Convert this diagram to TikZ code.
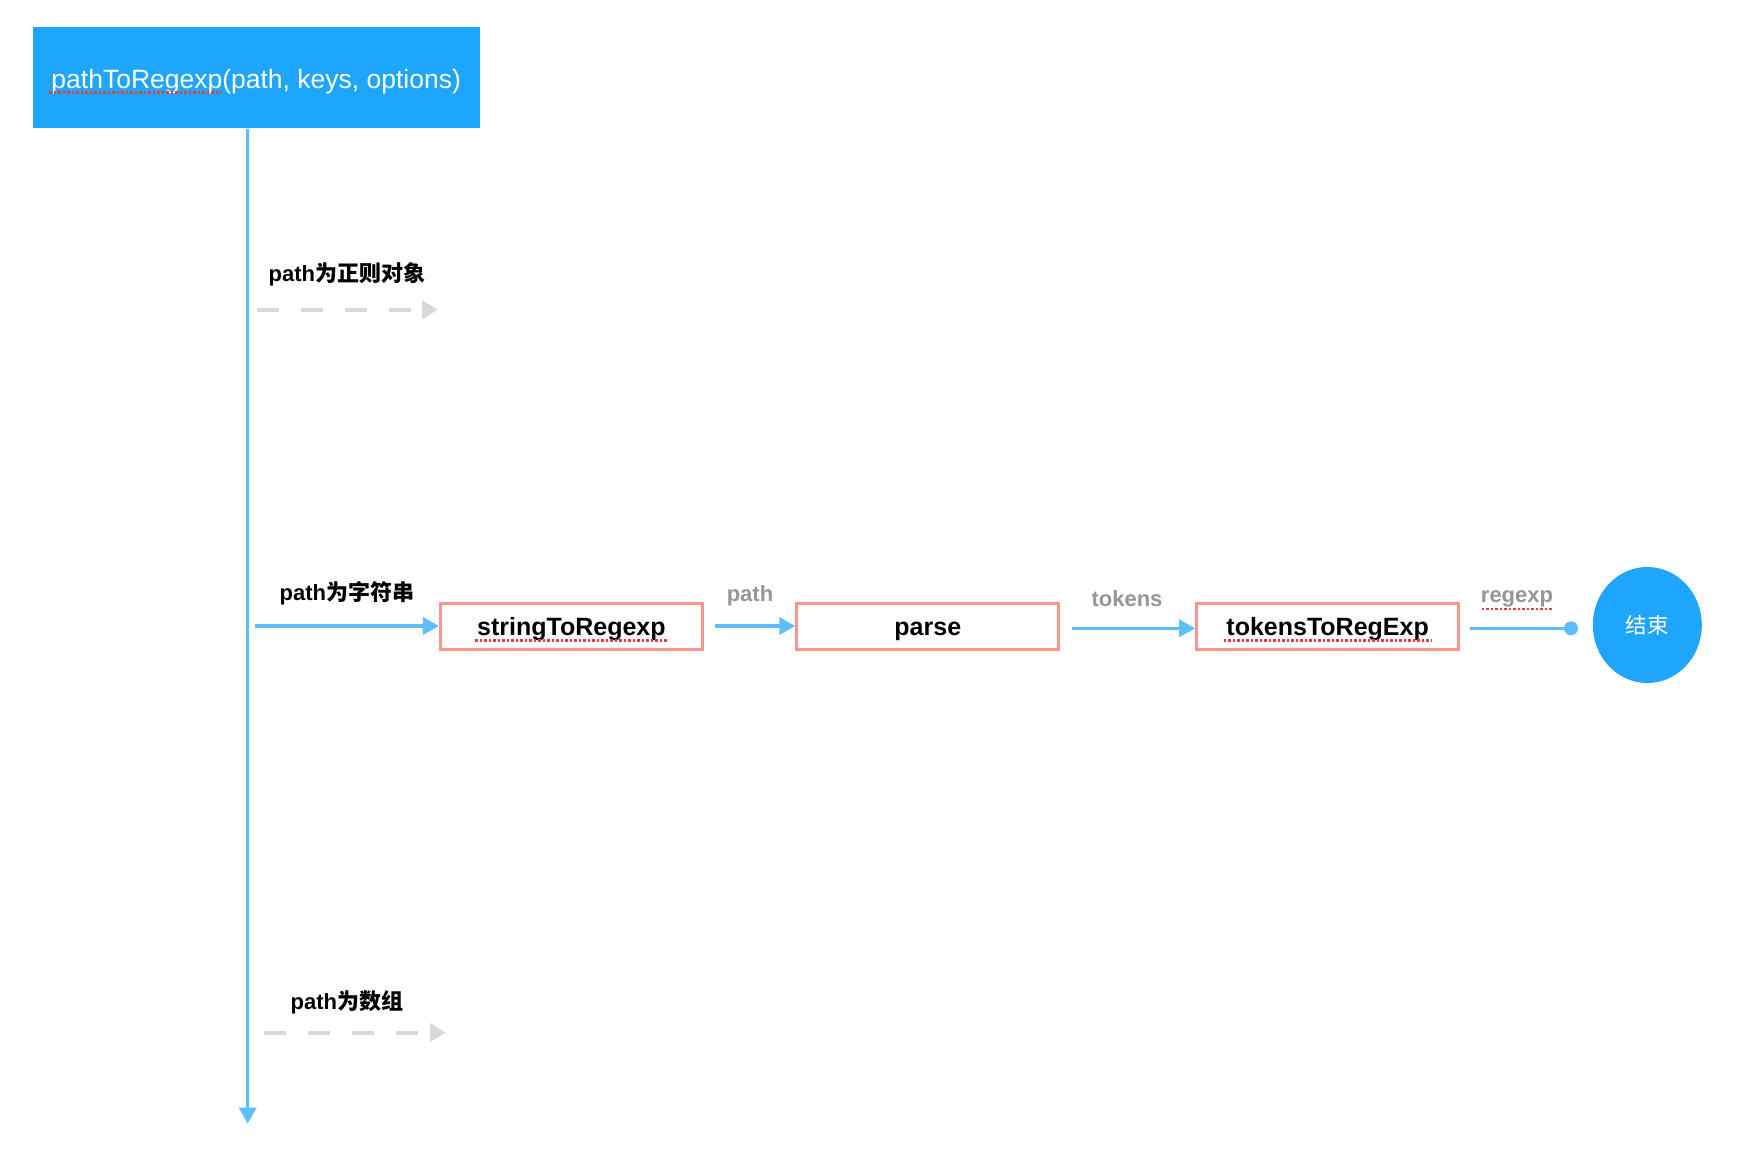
\documentclass[tikz,border=0pt]{standalone}
\usepackage{fontspec}
\setmainfont{Liberation Sans}
\newfontfamily\cjk{Noto Sans CJK SC}
\usetikzlibrary{arrows.meta,shapes.geometric}
\definecolor{topblue}{RGB}{30,165,252}
\definecolor{lineblue}{RGB}{94,190,250}
\definecolor{salmon}{RGB}{248,150,142}
\definecolor{dashgray}{RGB}{217,217,217}
\definecolor{labelgray}{RGB}{150,150,150}
\definecolor{spellred}{RGB}{235,60,60}
\tikzset{
  x=1pt, y=-1pt,
  funcbox/.style={draw=salmon, line width=3pt, minimum width=262pt, minimum height=45.5pt, inner sep=0pt, text height=21pt, text depth=3pt, font=\fontsize{25}{29}\selectfont\bfseries},
  flow/.style={draw=lineblue, line width=3.5pt, -{Triangle[length=16pt,width=17pt]}},
  dasharrow/.style={draw=dashgray, line width=4pt, dash pattern=on 22.5pt off 21.5pt, -{Triangle[length=16pt,width=18pt]}},
  branchlabel/.style={font=\fontsize{22}{26}\selectfont\bfseries, inner sep=0pt},
  edgelabel/.style={font=\fontsize{22}{26}\selectfont\bfseries, text=labelgray, inner sep=0pt},
  spell/.style={draw=spellred, line width=2.5pt, dash pattern=on 2.5pt off 2pt},
}
\begin{document}
\begin{tikzpicture}
\useasboundingbox (0,0) rectangle (1762,1150);
% top box
\node[fill=topblue, minimum width=447pt, minimum height=101.4pt, inner sep=0pt, text height=25pt, text depth=3.6pt, text=white, font=\fontsize{26.5}{30}\selectfont] (top) at (256.2,77.7) {pathToRegexp(path, keys, options)};
\coordinate (bottom) at (247.7,1123.7);
\draw[flow] (top.south -| bottom) -- (bottom);
% branch 1
\node[branchlabel] (l1) at (346.8,274.7) {path{\cjk 为正则对象}};
\coordinate (d1s) at (256.7,309.7);
\coordinate (d1e) at (438,309.7);
\draw[dasharrow] (d1s) -- (d1e);
% branch 2
\node[branchlabel] (l2) at (346.8,593.4) {path{\cjk 为字符串}};
\node[funcbox] (s2r) at (571.4,626.6) {stringToRegexp};
\node[funcbox] (parse) at (927.8,626.6) {parse};
\node[funcbox] (t2r) at (1327.6,626.6) {tokensToRegExp};
\node[ellipse, fill=topblue, minimum width=109pt, minimum height=116pt, inner sep=0pt, text=white, font=\fontsize{21.5}{25}\selectfont\cjk] (end) at (1647.3,625) {结束};
\coordinate (b2s) at (254.5,626);
\draw[flow] (b2s) -- (s2r.west |- b2s);
\coordinate (p1) at (715,626);
\draw[flow] (p1) -- (parse.west |- p1);
\node[edgelabel] (lpath) at (750,595.7) {path};
\coordinate (p2) at (1072,628.3);
\draw[flow] (p2) -- (t2r.west |- p2);
\node[edgelabel] (ltok) at (1127,599) {tokens};
\coordinate (p3) at (1470,628.3);
\coordinate (p3e) at (1571,628.3);
\draw[draw=lineblue, line width=3.5pt] (p3) -- (p3e);
\fill[lineblue] (p3e) circle (7pt);
\node[edgelabel] (lreg) at (1517,599) {regexp};
% branch 3
\node[branchlabel] (l3) at (346.8,1002) {path{\cjk 为数组}};
\coordinate (d3s) at (263.5,1032.5);
\coordinate (d3e) at (446,1032.5);
\draw[dasharrow] (d3s) -- (d3e);
% spell-check underlines
\draw[spell] ([xshift=-207pt,yshift=-15pt]top.center) -- ++(172pt,0);
\draw[spell] ([xshift=-96pt,yshift=-14pt]s2r.center) -- ++(192pt,0);
\draw[spell] ([xshift=-104pt,yshift=-14pt]t2r.center) -- ++(208pt,0);
\draw[spell] ([xshift=-35.5pt,yshift=-10pt]lreg.center) -- ++(71pt,0);
\end{tikzpicture}
\end{document}
